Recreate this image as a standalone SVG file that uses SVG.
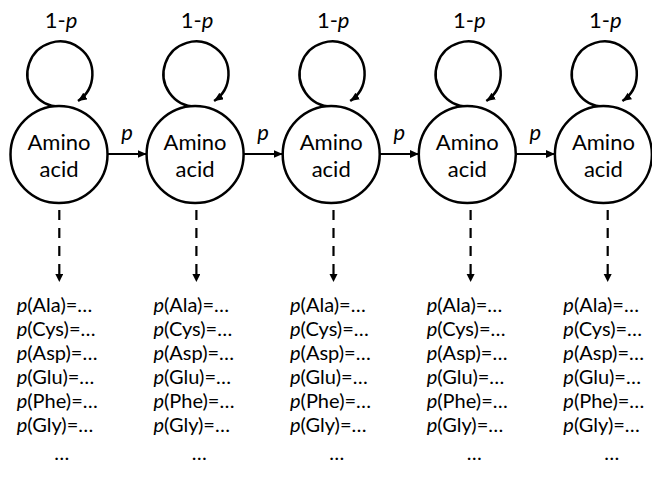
<svg xmlns="http://www.w3.org/2000/svg" width="652" height="493" viewBox="0 0 652 493">
<defs>
<marker id="ah" markerUnits="userSpaceOnUse" markerWidth="10" markerHeight="10" refX="9" refY="4" orient="auto">
<path d="M0,0 L9,4 L0,8 Z" fill="#000"/>
</marker>
<marker id="ahs" markerUnits="userSpaceOnUse" markerWidth="10" markerHeight="10" refX="8" refY="4" orient="auto">
<path d="M0,0 L8,4 L0,8 Z" fill="#000"/>
</marker>
<style>
.n{fill:#fff;stroke:#000;stroke-width:2.5}
.lp{fill:none;stroke:#000;stroke-width:2.5}
.e{stroke:#000;stroke-width:2.2;fill:none}
.d{stroke:#000;stroke-width:2.2;fill:none;stroke-dasharray:10 8}
text{font-family:Lato,"Liberation Sans",sans-serif;font-size:22px;fill:#000}
.r{font-size:20px}
.c{text-anchor:middle}
.i{font-style:italic}
</style>
</defs>
<rect width="652" height="493" fill="#fff"/>
<g id="connectors">
<path class="lp" d="M59.5,106.5 A32.5,32.5 0 1 1 78,101" marker-end="url(#ah)"/>
<path class="lp" d="M195.6,106.5 A32.5,32.5 0 1 1 214.1,101" marker-end="url(#ah)"/>
<path class="lp" d="M331.7,106.5 A32.5,32.5 0 1 1 350.2,101" marker-end="url(#ah)"/>
<path class="lp" d="M467.8,106.5 A32.5,32.5 0 1 1 486.3,101" marker-end="url(#ah)"/>
<path class="lp" d="M603.9,106.5 A32.5,32.5 0 1 1 622.4,101" marker-end="url(#ah)"/>
<line class="e" x1="107.5" y1="154" x2="146.6" y2="154" marker-end="url(#ah)"/>
<line class="e" x1="243.6" y1="154" x2="282.7" y2="154" marker-end="url(#ah)"/>
<line class="e" x1="379.7" y1="154" x2="418.8" y2="154" marker-end="url(#ah)"/>
<line class="e" x1="515.8" y1="154" x2="554.9" y2="154" marker-end="url(#ah)"/>
<line class="d" x1="59.3" y1="210" x2="59.3" y2="282" marker-end="url(#ahs)"/>
<line class="d" x1="196.4" y1="210" x2="196.4" y2="282" marker-end="url(#ahs)"/>
<line class="d" x1="333.5" y1="210" x2="333.5" y2="282" marker-end="url(#ahs)"/>
<line class="d" x1="470.6" y1="210" x2="470.6" y2="282" marker-end="url(#ahs)"/>
<line class="d" x1="607.7" y1="210" x2="607.7" y2="282" marker-end="url(#ahs)"/>
<text class="c" x="61" y="28">1-<tspan class="i">p</tspan></text>
<text class="c" x="197.1" y="28">1-<tspan class="i">p</tspan></text>
<text class="c" x="333.2" y="28">1-<tspan class="i">p</tspan></text>
<text class="c" x="469.3" y="28">1-<tspan class="i">p</tspan></text>
<text class="c" x="605.4" y="28">1-<tspan class="i">p</tspan></text>
<text class="c i" x="127" y="140">p</text>
<text class="c i" x="263.1" y="140">p</text>
<text class="c i" x="399.2" y="140">p</text>
<text class="c i" x="535.3" y="140">p</text>
</g>
<g id="node1"><circle class="n" cx="59" cy="154.5" r="48.5"/><text class="c" x="59" y="150">Amino</text><text class="c" x="59" y="177">acid</text></g>
<g id="node2"><circle class="n" cx="195.1" cy="154.5" r="48.5"/><text class="c" x="195.1" y="150">Amino</text><text class="c" x="195.1" y="177">acid</text></g>
<g id="node3"><circle class="n" cx="331.2" cy="154.5" r="48.5"/><text class="c" x="331.2" y="150">Amino</text><text class="c" x="331.2" y="177">acid</text></g>
<g id="node4"><circle class="n" cx="467.3" cy="154.5" r="48.5"/><text class="c" x="467.3" y="150">Amino</text><text class="c" x="467.3" y="177">acid</text></g>
<g id="node5"><circle class="n" cx="603.4" cy="154.5" r="48.5"/><text class="c" x="603.4" y="150">Amino</text><text class="c" x="603.4" y="177">acid</text></g>
<g id="dist1">
<text class="r" x="16.7" y="312"><tspan class="i">p</tspan>(Ala)=…<tspan x="16.7" dy="24"><tspan class="i">p</tspan>(Cys)=…</tspan><tspan x="16.7" dy="24"><tspan class="i">p</tspan>(Asp)=…</tspan><tspan x="16.7" dy="24"><tspan class="i">p</tspan>(Glu)=…</tspan><tspan x="16.7" dy="24"><tspan class="i">p</tspan>(Phe)=…</tspan><tspan x="16.7" dy="24"><tspan class="i">p</tspan>(Gly)=…</tspan><tspan class="c" x="61.7" dy="28">…</tspan></text>
</g>
<g id="dist2">
<text class="r" x="153.4" y="312"><tspan class="i">p</tspan>(Ala)=…<tspan x="153.4" dy="24"><tspan class="i">p</tspan>(Cys)=…</tspan><tspan x="153.4" dy="24"><tspan class="i">p</tspan>(Asp)=…</tspan><tspan x="153.4" dy="24"><tspan class="i">p</tspan>(Glu)=…</tspan><tspan x="153.4" dy="24"><tspan class="i">p</tspan>(Phe)=…</tspan><tspan x="153.4" dy="24"><tspan class="i">p</tspan>(Gly)=…</tspan><tspan class="c" x="199.2" dy="28">…</tspan></text>
</g>
<g id="dist3">
<text class="r" x="290" y="312"><tspan class="i">p</tspan>(Ala)=…<tspan x="290" dy="24"><tspan class="i">p</tspan>(Cys)=…</tspan><tspan x="290" dy="24"><tspan class="i">p</tspan>(Asp)=…</tspan><tspan x="290" dy="24"><tspan class="i">p</tspan>(Glu)=…</tspan><tspan x="290" dy="24"><tspan class="i">p</tspan>(Phe)=…</tspan><tspan x="290" dy="24"><tspan class="i">p</tspan>(Gly)=…</tspan><tspan class="c" x="336.7" dy="28">…</tspan></text>
</g>
<g id="dist4">
<text class="r" x="426.7" y="312"><tspan class="i">p</tspan>(Ala)=…<tspan x="426.7" dy="24"><tspan class="i">p</tspan>(Cys)=…</tspan><tspan x="426.7" dy="24"><tspan class="i">p</tspan>(Asp)=…</tspan><tspan x="426.7" dy="24"><tspan class="i">p</tspan>(Glu)=…</tspan><tspan x="426.7" dy="24"><tspan class="i">p</tspan>(Phe)=…</tspan><tspan x="426.7" dy="24"><tspan class="i">p</tspan>(Gly)=…</tspan><tspan class="c" x="474.2" dy="28">…</tspan></text>
</g>
<g id="dist5">
<text class="r" x="563.3" y="312"><tspan class="i">p</tspan>(Ala)=…<tspan x="563.3" dy="24"><tspan class="i">p</tspan>(Cys)=…</tspan><tspan x="563.3" dy="24"><tspan class="i">p</tspan>(Asp)=…</tspan><tspan x="563.3" dy="24"><tspan class="i">p</tspan>(Glu)=…</tspan><tspan x="563.3" dy="24"><tspan class="i">p</tspan>(Phe)=…</tspan><tspan x="563.3" dy="24"><tspan class="i">p</tspan>(Gly)=…</tspan><tspan class="c" x="611.7" dy="28">…</tspan></text>
</g>
</svg>
